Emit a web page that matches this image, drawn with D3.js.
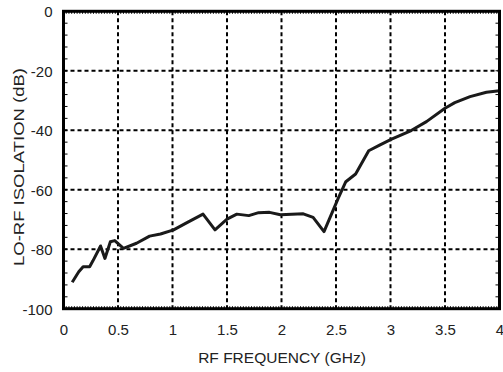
<!DOCTYPE html>
<html>
<head>
<meta charset="utf-8">
<script src="https://cdn.jsdelivr.net/npm/d3@7"></script>
<style>
  body { margin: 0; background: #fff; }
  svg { display: block; font-family: "Liberation Sans", Arial, Helvetica, sans-serif; }
</style>
</head>
<body>
<div id="chart"></div>
<script>
// Data
var freqGHz = [0.08, 0.14, 0.18, 0.24, 0.27, 0.34, 0.38, 0.43, 0.47, 0.55, 0.67, 0.79, 0.89, 1.01, 1.12,
               1.28, 1.39, 1.5, 1.59, 1.7, 1.79, 1.89, 1.99, 2.2, 2.29, 2.39, 2.52, 2.59, 2.68, 2.8,
               2.9, 3.01, 3.19, 3.33, 3.5, 3.59, 3.73, 3.88, 4.0];
var isolationDb = [-91.1, -87.6, -85.9, -85.9, -83.9, -78.9, -83.1, -77.5, -77.1, -79.7, -78.0, -75.6, -74.9, -73.5, -71.3,
                   -68.2, -73.5, -69.9, -68.2, -68.7, -67.7, -67.6, -68.4, -68.1, -69.3, -74.1, -62.9, -57.3, -54.7, -46.9,
                   -45.0, -43.0, -40.1, -37.1, -32.6, -30.7, -28.7, -27.2, -26.7];
var xTicks = [0, 0.5, 1, 1.5, 2, 2.5, 3, 3.5, 4];
var yTicks = [0, -20, -40, -60, -80, -100];
var xTickLabels = ["0", "0.5", "1", "1.5", "2", "2.5", "3", "3.5", "4"];
var yTickLabels = ["0", "-20", "-40", "-60", "-80", "-100"];

// Canvas
var w = 503, h = 372;
var m = {left: 63.5, right: 3.5, top: 11.3, bottom: 63.3};

var svg = d3.select("#chart").append("svg").attr("width", w).attr("height", h);

var xscale = d3.scaleLinear().domain([0, 4]).range([m.left, w - m.right]);
var yscale = d3.scaleLinear().domain([-100, 0]).range([h - m.bottom, m.top]);

// grid
var grid = svg.append("g").attr("stroke", "#000").attr("stroke-width", 2).attr("stroke-dasharray", "4,3");
grid.selectAll(".vg").data(xTicks.slice(1, -1)).enter().append("line")
  .attr("x1", d => xscale(d)).attr("x2", d => xscale(d))
  .attr("y1", yscale(0)).attr("y2", yscale(-100));
grid.selectAll(".hg").data(yTicks.slice(1, -1)).enter().append("line")
  .attr("x1", xscale(0)).attr("x2", xscale(4))
  .attr("y1", d => yscale(d)).attr("y2", d => yscale(d));

// minor ticks (inside)
var minorY = d3.range(-96, 0, 4);
var minorX = d3.range(0.025, 4, 0.025);
var ticks = svg.append("g").attr("stroke", "#000").attr("stroke-width", 1);
ticks.selectAll(".ly").data(minorY).enter().append("line")
  .attr("x1", xscale(0)).attr("x2", xscale(0) + 4)
  .attr("y1", d => yscale(d)).attr("y2", d => yscale(d));
ticks.selectAll(".ry").data(minorY).enter().append("line")
  .attr("x1", xscale(4)).attr("x2", xscale(4) - 4)
  .attr("y1", d => yscale(d)).attr("y2", d => yscale(d));
ticks.selectAll(".tx").data(minorX).enter().append("line")
  .attr("x1", d => xscale(d)).attr("x2", d => xscale(d))
  .attr("y1", yscale(0)).attr("y2", yscale(0) + 2.5);
ticks.selectAll(".bx").data(minorX).enter().append("line")
  .attr("x1", d => xscale(d)).attr("x2", d => xscale(d))
  .attr("y1", yscale(-100)).attr("y2", yscale(-100) - 2.5);

// curve
var line = d3.line().x((d, i) => xscale(freqGHz[i])).y(d => yscale(d));
svg.append("path").datum(isolationDb)
  .attr("d", line).attr("fill", "none")
  .attr("stroke", "#1a1a1a").attr("stroke-width", 3).attr("stroke-linejoin", "round");

// frame
svg.append("rect")
  .attr("x", xscale(0)).attr("y", yscale(0))
  .attr("width", xscale(4) - xscale(0)).attr("height", yscale(-100) - yscale(0))
  .attr("fill", "none").attr("stroke", "#000").attr("stroke-width", 3);

// Axes
var xaxis = d3.axisBottom(xscale).tickValues(xTicks).tickSize(0).tickPadding(0)
  .tickFormat((d, i) => xTickLabels[i]);
var yaxis = d3.axisLeft(yscale).tickValues(yTicks).tickSize(0).tickPadding(0)
  .tickFormat((d, i) => yTickLabels[i]);

var gx = svg.append("g").attr("transform", "translate(0," + (yscale(-100) + 26) + ")").call(xaxis);
var gy = svg.append("g").attr("transform", "translate(" + (xscale(0) - 11) + ",0)").call(yaxis);
[gx, gy].forEach(g => {
  g.select(".domain").remove();
  g.selectAll("text").attr("font-size", 15).attr("fill", "#222").attr("font-family", "Liberation Sans, Arial, sans-serif");
});
gx.selectAll("text").attr("dy", 0);
gy.selectAll("text").attr("dy", "0.36em");

// titles
svg.append("text").attr("x", 282).attr("y", 363).attr("text-anchor", "middle")
  .attr("font-size", 15.5).attr("fill", "#222").text("RF FREQUENCY (GHz)");
svg.append("text").attr("transform", "translate(24,167) rotate(-90)").attr("text-anchor", "middle")
  .attr("font-size", 15.5).attr("fill", "#222")
  .attr("textLength", 198).attr("lengthAdjust", "spacingAndGlyphs")
  .text("LO-RF ISOLATION (dB)");
</script>
</body>
</html>
